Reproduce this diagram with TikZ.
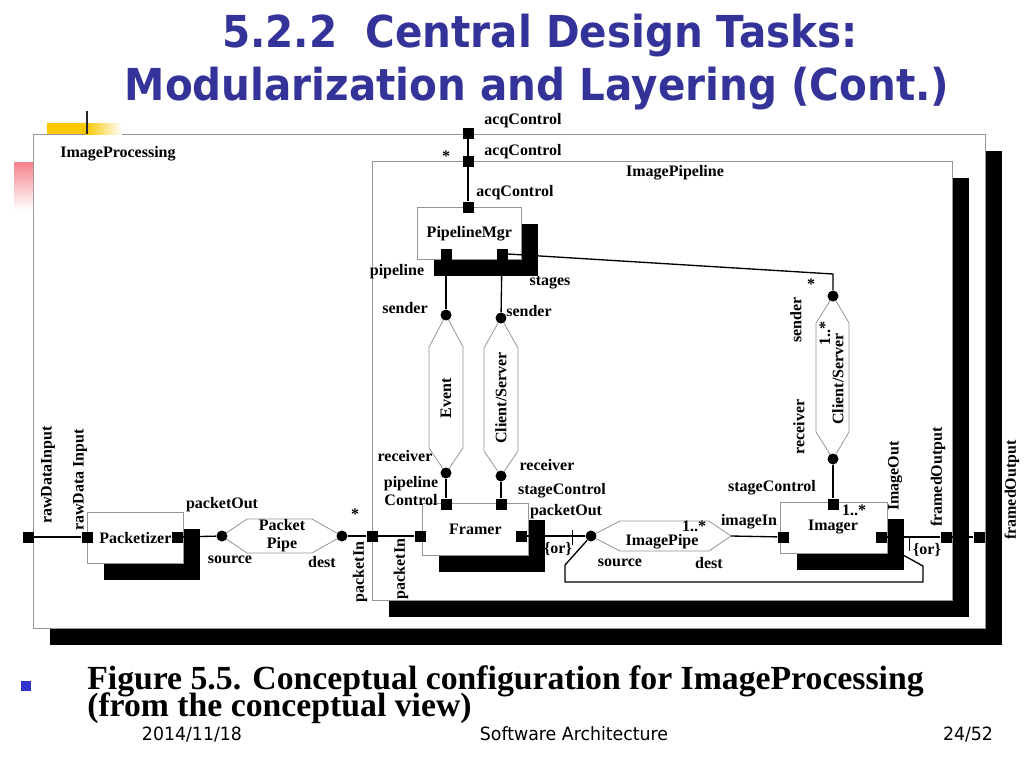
\documentclass[tikz,border=0pt]{standalone}
\usepackage{fontspec}
\usepackage{xcolor}
\setmainfont{Liberation Serif}
\newfontfamily\ttlfont{DejaVu Sans}[FakeStretch=0.92]
\newfontfamily\footfont{DejaVu Sans}[FakeStretch=0.95]
\usetikzlibrary{shadows}

\definecolor{ttlblue}{RGB}{51,51,153}
\definecolor{boxgray}{RGB}{150,150,150}
\definecolor{bulletblue}{RGB}{51,51,204}
\definecolor{decoyellow}{RGB}{248,200,0}
\definecolor{decored}{RGB}{246,130,140}

\pgfdeclarelayer{back}
\pgfdeclarelayer{mid}
\pgfsetlayers{back,mid,main}

\begin{document}
\begin{tikzpicture}[
      x = 0.75pt, y = -0.75pt,
      font = \bfseries\fontsize{12}{13.5}\selectfont,
      comp/.style = {draw = boxgray, fill = white, line width = .6pt, inner sep = 0pt,
                     anchor = north west,
                     drop shadow = {shadow xshift = 12.75pt, shadow yshift = -12.75pt,
                                    opacity = 1, fill = black}},
      port/.style = {fill = black, inner sep = 0pt, minimum size = 8.25pt},
      role/.style = {circle, fill = black, inner sep = 0pt, minimum size = 8.25pt},
      conn/.style = {line width = 1pt},
      hex/.style  = {draw = boxgray, line width = .6pt},
      lbl/.style  = {inner sep = 0pt},
      vlbl/.style = {inner sep = 0pt, rotate = 90},
      ttl/.style  = {inner sep = 0pt, text = ttlblue,
                     font = \ttlfont\bfseries\fontsize{33}{38}\selectfont},
      captext/.style = {inner sep = 0pt, font = \bfseries\fontsize{25.3}{27}\selectfont},
      foot/.style = {inner sep = 0pt, font = \footfont\fontsize{13.7}{16}\selectfont}
    ]

  \useasboundingbox (0,0) rectangle (1024,768);

  % slide decoration ------------------------------------------------------
  \fill[decoyellow] (47,123) rectangle (86,134);
  \shade[left color = decoyellow, right color = white] (86,123) rectangle (122,134);
  \shade[top color = decored, bottom color = white] (14,162) rectangle (33,210);
  \draw[line width = 2pt, black!85] (87,111) -- (87,134);

  % title -------------------------------------------------------------------
  \node[ttl, anchor = base] (ttl1) at (540,47) {5.2.2\ \ Central Design Tasks:};
  \node[ttl, anchor = base] (ttl2) at (537,100) {Modularization and Layering (Cont.)};

  % components ------------------------------------------------------------
  \begin{pgfonlayer}{back}
    \node[comp, minimum width = 952*0.75pt, minimum height = 494*0.75pt] (imgproc) at (33,134) {};
    \node[comp, minimum width = 580*0.75pt, minimum height = 439*0.75pt] (imgpipe) at (372,161) {};
    \node[comp, minimum width = 104*0.75pt, minimum height = 52*0.75pt] (mgr) at (417,207) {PipelineMgr};
    \node[comp, minimum width = 106*0.75pt, minimum height = 52*0.75pt] (framer) at (422,503) {Framer};
    \node[comp, minimum width = 107*0.75pt, minimum height = 51*0.75pt] (imager) at (780,502) {};
    \node[comp, minimum width = 96*0.75pt, minimum height = 51*0.75pt] (pktz) at (87,512) {Packetizer};
  \end{pgfonlayer}
  \node[lbl] (imgprocLbl) at (118,154) {ImageProcessing};
  \node[lbl] (imgpipeLbl) at (675,173) {ImagePipeline};
  \node[lbl] (imagerLbl) at (833,527) {Imager};

  % ports -------------------------------------------------------------------
  \node[port] (acqO) at (468,133) {};
  \node[port] (acqI) at (468,161) {};
  \node[port] (acqM) at (468,207) {};
  \node[port] (mgrPipe) at (446,254) {};
  \node[port] (mgrStage) at (502,254) {};
  \node[port] (frmPipe) at (446,504) {};
  \node[port] (frmStage) at (501,504) {};
  \node[port] (frmIn) at (420,536) {};
  \node[port] (frmOut) at (521,536) {};
  \node[port] (pipeIn) at (372,536) {};
  \node[port] (rawOut) at (28,537) {};
  \node[port] (pktIn) at (87,537) {};
  \node[port] (pktOut) at (177,537) {};
  \node[port] (imgTop) at (833,504) {};
  \node[port] (imgIn) at (783,537) {};
  \node[port] (imgOut) at (881,537) {};
  \node[port] (frameIn) at (946,537) {};
  \node[port] (frameOut) at (979,537) {};

  % roles -------------------------------------------------------------------
  \node[role] (evS) at (446,315) {};
  \node[role] (evR) at (446,473) {};
  \node[role] (csS) at (501,318) {};
  \node[role] (csR) at (501,476) {};
  \node[role] (cs2S) at (833,296) {};
  \node[role] (cs2R) at (833,459) {};
  \node[role] (ppS) at (222,536) {};
  \node[role] (ppD) at (342,536) {};
  \node[role] (ipS) at (591,536) {};
  \coordinate (ipD) at (731,536);
  \coordinate (cs2Bend) at (833,274);
  \coordinate (orA) at (565,565);
  \coordinate (orB) at (565,582);
  \coordinate (orC) at (923,582);
  \coordinate (orD) at (923,566);
  \coordinate (orE) at (903,555);

  % connectors ------------------------------------------------------------
  \begin{pgfonlayer}{mid}
    \draw[hex] (evS.center) -- ([shift={(-17,32)}]evS.center) -- ([shift={(-17,-25)}]evR.center)
          -- (evR.center) -- ([shift={(17,-25)}]evR.center) -- ([shift={(17,32)}]evS.center) -- cycle;
    \draw[hex] (csS.center) -- ([shift={(-17,30)}]csS.center) -- ([shift={(-17,-25)}]csR.center)
          -- (csR.center) -- ([shift={(17,-25)}]csR.center) -- ([shift={(17,30)}]csS.center) -- cycle;
    \draw[hex] (cs2S.center) -- ([shift={(-17,27)}]cs2S.center) -- ([shift={(-17,-27)}]cs2R.center)
          -- (cs2R.center) -- ([shift={(16,-27)}]cs2R.center) -- ([shift={(16,27)}]cs2S.center) -- cycle;
    \draw[hex] (ppS.center) -- ([shift={(25,-17)}]ppS.center) -- ([shift={(-30,-17)}]ppD.center)
          -- (ppD.center) -- ([shift={(-30,17)}]ppD.center) -- ([shift={(25,17)}]ppS.center) -- cycle;
    \draw[hex] (ipS.center) -- ([shift={(29,-15)}]ipS.center) -- ([shift={(-22,-15)}]ipD)
          -- (ipD) -- ([shift={(-22,15)}]ipD) -- ([shift={(29,15)}]ipS.center) -- cycle;

    \draw[conn] (acqO) -- (acqM);
    \draw[conn] (mgrPipe) -- (evS);
    \draw[conn] (evR) -- (frmPipe);
    \draw[conn] (mgrStage) -- (csS);
    \draw[conn] (csR) -- (frmStage);
    \draw[conn] (mgrStage.east) -- (cs2Bend) -- (cs2S);
    \draw[conn] (cs2R) -- (imgTop);
    \draw[conn] (rawOut) -- (pktIn);
    \draw[conn] (pktOut) -- (ppS);
    \draw[conn] (ppD) -- (pipeIn) -- (frmIn);
    \draw[conn] (frmOut) -- (ipS);
    \draw[conn] (ipD) -- (imgIn);
    \draw[conn] (imgOut) -- (frameIn) -- (frameOut);
    \draw[conn] (ipS) -- (orA) -- (orB) -- (orC) -- (orD) -- (orE);
    \draw[line width = .6pt] (572,530) -- (572,545);
    \draw[line width = .6pt] (909,538) -- (909,551);
  \end{pgfonlayer}

  % labels ------------------------------------------------------------------
  \node[lbl] (acqLblO) at (523,121) {acqControl};
  \node[lbl] (acqLblI) at (523,152) {acqControl};
  \node[lbl] (acqLblM) at (515,193) {acqControl};
  \node[lbl] (acqStar) at (446,156) {*};
  \node[lbl] (pipeLbl) at (397,272) {pipeline};
  \node[lbl] (stagesLbl) at (550,283) {stages};
  \node[lbl] (evSLbl) at (405,308) {sender};
  \node[lbl] (evRLbl) at (405,456) {receiver};
  \node[vlbl] (evLbl) at (446,398) {Event};
  \node[lbl] (csSLbl) at (529,311) {sender};
  \node[lbl] (csRLbl) at (547,465) {receiver};
  \node[vlbl] (csLbl) at (501,398) {Client/Server};
  \node[lbl, align = center] (frmPipeLbl) at (411,491) {pipeline\\Control};
  \node[lbl] (frmStageLbl) at (562,491) {stageControl};
  \node[lbl] (frmOutLbl) at (566,512) {packetOut};
  \node[lbl] (orLblA) at (558,549) {\{or\}};
  \node[lbl] (ipMult) at (694,526) {1..*};
  \node[lbl] (ipLbl) at (662,542) {ImagePipe};
  \node[lbl] (ipSLbl) at (620,563) {source};
  \node[lbl] (ipDLbl) at (709,563) {dest};
  \node[lbl] (imgInLbl) at (749,522) {imageIn};
  \node[lbl] (imgTopLbl) at (772,488) {stageControl};
  \node[lbl] (imgMult) at (854,510) {1..*};
  \node[vlbl] (imgOutLbl) at (895,476) {ImageOut};
  \node[vlbl] (frameInLbl) at (938,477) {framedOutput};
  \node[vlbl] (frameOutLbl) at (1012,490) {framedOutput};
  \node[lbl] (orLblB) at (927,550) {\{or\}};
  \node[lbl] (cs2Star) at (811,284) {*};
  \node[vlbl] (cs2SLbl) at (796,320) {sender};
  \node[vlbl] (cs2RLbl) at (799,427) {receiver};
  \node[vlbl] (cs2Mult) at (825,333) {1..*};
  \node[vlbl] (cs2Lbl) at (838,379) {Client/Server};
  \node[vlbl] (rawOutLbl) at (48,475) {rawDataInput};
  \node[vlbl] (pktInLbl) at (80,480) {rawData Input};
  \node[lbl] (pktOutLbl) at (222,505) {packetOut};
  \node[lbl, align = center] (ppLbl) at (282,536) {Packet\\Pipe};
  \node[lbl] (ppSLbl) at (230,560) {source};
  \node[lbl] (ppDLbl) at (322,562) {dest};
  \node[lbl] (ppStar) at (355,514) {*};
  \node[vlbl] (pipeInLbl) at (360,572) {packetIn};
  \node[vlbl] (frmInLbl) at (401,569) {packetIn};

  % caption and footer ------------------------------------------------------
  \node[fill = bulletblue, inner sep = 0pt, minimum size = 7pt] (bullet) at (26,686) {};
  \node[captext, anchor = base west] (cap1) at (87,689)
        {Figure 5.5. Conceptual configuration for ImageProcessing};
  \node[captext, anchor = base west] (cap2) at (87,716) {(from the conceptual view)};
  \node[foot, anchor = base] (date) at (192,740) {2014/11/18};
  \node[foot, anchor = base] (course) at (574,740) {Software Architecture};
  \node[foot, anchor = base] (page) at (968,740) {24/52};

\end{tikzpicture}
\end{document}
